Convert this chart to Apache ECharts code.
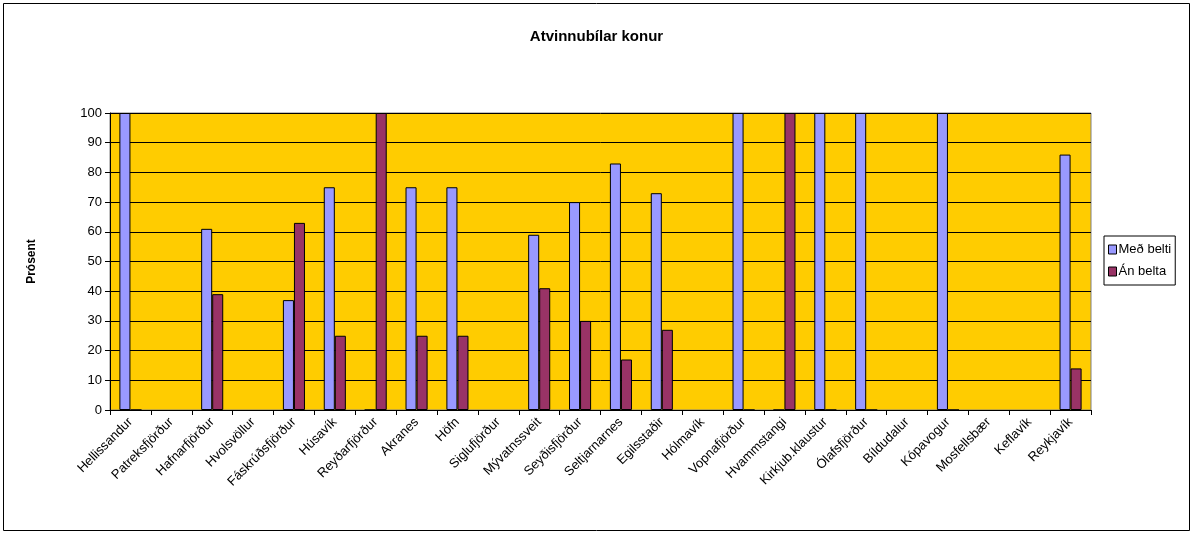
<!DOCTYPE html>
<html>
<head>
<meta charset="utf-8">
<title>Atvinnubílar konur</title>
<script src="https://cdn.jsdelivr.net/npm/echarts@6/dist/echarts.min.js"></script>
<style>
  html, body { margin: 0; padding: 0; background: #fff; }
  #main { width: 1193px; height: 534px; }
</style>
</head>
<body>
<div id="main"></div>
<script>
var categories = ['Hellissandur', 'Patreksfjörður', 'Hafnarfjörður', 'Hvolsvöllur', 'Fáskrúðsfjörður',
  'Húsavík', 'Reyðarfjörður', 'Akranes', 'Höfn', 'Siglufjörður', 'Mývatnssveit', 'Seyðisfjörður',
  'Seltjarnarnes', 'Egilsstaðir', 'Hólmavík', 'Vopnafjörður', 'Hvammstangi', 'Kirkjub.klaustur',
  'Ólafsfjörður', 'Bíldudalur', 'Kópavogur', 'Mosfellsbær', 'Keflavík', 'Reykjavík'];
var seriesNames = ['Með belti', 'Án belta'];
// '-' = engin gögn
var medBelti = [100, '-', 61, '-', 37, 75, 0, 75, 75, '-', 59, 70, 83, 73, '-', 100, 0, 100, 100, '-', 100, '-', '-', 86];
var anBelta  = [0, '-', 39, '-', 63, 25, 100, 25, 25, '-', 41, 30, 17, 27, '-', 0, 100, 0, 0, '-', 0, '-', '-', 14];
var yTicks = { min: 0, max: 100, interval: 10 };

var myChart = echarts.init(document.getElementById('main'));
var option = {
  backgroundColor: '#ffffff',
  textStyle: { fontFamily: '"Liberation Sans", Arial, sans-serif' },
  title: {
    text: 'Atvinnubílar konur',
    left: 'center',
    top: 24,
    textStyle: { fontSize: 15, fontWeight: 'bold', color: '#000' }
  },
  legend: {
    orient: 'vertical',
    left: 1104,
    top: 236,
    icon: 'rect',
    itemWidth: 8,
    itemHeight: 9,
    itemGap: 9,
    padding: [7, 4, 7, 4],
    borderColor: '#000',
    borderWidth: 1,
    textStyle: { fontSize: 13, color: '#000', padding: [0, 0, 0, -3] },
    itemStyle: { borderColor: '#000', borderWidth: 1 },
    data: seriesNames
  },
  grid: { left: 110, right: 102, top: 113, bottom: 124, show: true, backgroundColor: '#FFCC00', borderColor: '#808080', borderWidth: 1 },
  xAxis: {
    type: 'category',
    data: categories,
    axisLine: { lineStyle: { color: '#000' } },
    axisTick: { show: true, lineStyle: { color: '#000' }, length: 5 },
    axisLabel: { rotate: 45, interval: 0, fontSize: 13, color: '#000', margin: 10 }
  },
  yAxis: {
    type: 'value',
    min: yTicks.min,
    max: yTicks.max,
    interval: yTicks.interval,
    name: 'Prósent',
    nameLocation: 'middle',
    nameGap: 72,
    nameTextStyle: { fontSize: 12, fontWeight: 'bold', color: '#000' },
    axisLine: { show: true, lineStyle: { color: '#000' } },
    axisTick: { show: true, lineStyle: { color: '#000' }, length: 5 },
    axisLabel: { fontSize: 13, color: '#000', margin: 8 },
    splitLine: { lineStyle: { color: '#000', width: 1 } }
  },
  series: [
    {
      name: seriesNames[0],
      type: 'bar',
      data: medBelti,
      barGap: '0%',
      barCategoryGap: '46%',
      itemStyle: { color: '#9999FF', borderColor: '#000', borderWidth: 1 }
    },
    {
      name: seriesNames[1],
      type: 'bar',
      data: anBelta,
      itemStyle: { color: '#993366', borderColor: '#000', borderWidth: 1 }
    }
  ],
  // rammi utan um allt
  graphic: [{
    type: 'rect',
    shape: { x: 3.5, y: 3.5, width: 1186, height: 527 },
    style: { fill: 'none', stroke: '#000', lineWidth: 1 },
    silent: true
  }]
};
myChart.setOption(option);
</script>
</body>
</html>
